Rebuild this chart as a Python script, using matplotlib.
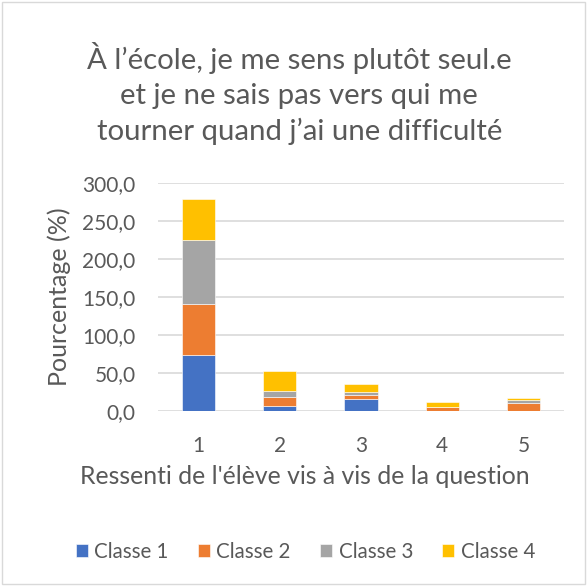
import matplotlib.pyplot as plt
import numpy as np
from matplotlib.patches import Rectangle

# values (percent)
categories = ['1', '2', '3', '4', '5']
classe1 = [73.5, 7.0, 16.0, 0.0, 0.5]
classe2 = [67.0, 11.0, 5.0, 5.0, 10.0]
classe3 = [85.0, 8.0, 4.5, 0.5, 4.0]
classe4 = [53.0, 27.0, 10.5, 6.5, 3.0]
series_names = ['Classe 1', 'Classe 2', 'Classe 3', 'Classe 4']
colors = ['#4472C4', '#ED7D31', '#A5A5A5', '#FFC000']

plt.rcParams['font.family'] = ['Lato', 'DejaVu Sans']
txt = '#595959'

fig = plt.figure(figsize=(5.87, 5.86), dpi=100)
fig.patches.append(Rectangle((0.003, 0.003), 0.994, 0.994, transform=fig.transFigure,
                             fill=False, edgecolor='#D9D9D9', linewidth=1))
ax = fig.add_axes([0.269, 0.2986, 0.692, 0.389])

x = np.arange(len(categories))
bottom = np.zeros(len(categories))
for name, vals, c in zip(series_names, [classe1, classe2, classe3, classe4], colors):
    ax.bar(x, vals, width=0.41, bottom=bottom, color=c, label=name,
           edgecolor='white', linewidth=0.4, zorder=3)
    bottom += np.array(vals)

ax.set_ylim(0, 300)
ax.set_xlim(-0.5, 4.5)
ax.set_yticks(np.arange(0, 301, 50))
ax.set_yticklabels([f'{v:.1f}'.replace('.', ',') for v in np.arange(0, 301, 50)])
ax.set_xticks(x)
ax.set_xticklabels(categories)
ax.grid(axis='y', color='#D9D9D9', linewidth=1.2, zorder=0)
for s in ax.spines.values():
    s.set_visible(False)
ax.tick_params(length=0, colors=txt, labelsize=15)
ax.tick_params(axis='y', pad=16)
ax.tick_params(axis='x', pad=18)

ax.set_ylabel('Pourcentage (%)', fontsize=18, color=txt, va='center')
ax.yaxis.set_label_coords(-0.244, 0.5)
ax.set_xlabel("Ressenti de l'élève vis à vis de la question", fontsize=17.8, color=txt, va='center')
ax.xaxis.set_label_coords(0.361, -0.289)

fig.text(0.51, 0.84, "À l’école, je me sens plutôt seul.e\net je ne sais pas vers qui me\ntourner quand j’ai une difficulté",
         ha='center', va='center', fontsize=21.2, color=txt, linespacing=1.42)

fig.legend(loc='center', bbox_to_anchor=(0.52, 0.058), ncol=4, frameon=False,
           fontsize=14.8, labelcolor=txt, handlelength=0.62, handleheight=0.62,
           handletextpad=0.3, columnspacing=1.4)

fig.savefig('out.png', dpi=100)
